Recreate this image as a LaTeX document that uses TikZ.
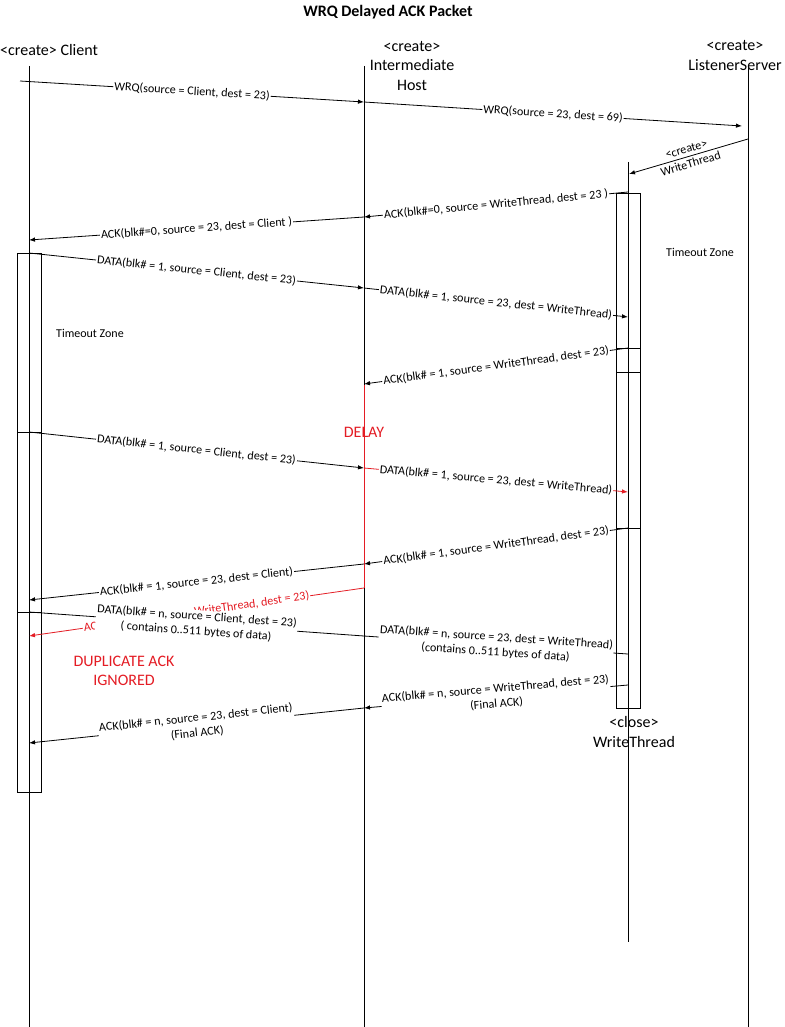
\documentclass[tikz,border=0pt]{standalone}
\usepackage{fontspec}
\setmainfont{Carlito}
\usetikzlibrary{arrows.meta}
\definecolor{dred}{RGB}{228,28,36}
\tikzset{
  head/.style={font=\fontsize{16}{19.5}\selectfont, align=center, inner sep=0pt},
  titlestyle/.style={font=\bfseries\fontsize{16}{18}\selectfont, inner sep=0pt},
  life/.style={line width=0.9pt},
  actbox/.style={line width=0.9pt},
  msg/.style={line width=0.8pt, -{Latex[length=6pt,width=4.5pt]}},
  plainmsg/.style={line width=0.8pt},
  lbl/.style={font=\fontsize{12.1}{15}\selectfont, fill=white, inner sep=1pt, sloped, align=center},
  note/.style={font=\fontsize{12}{14}\selectfont, inner sep=0pt},
  rednote/.style={font=\fontsize{16}{18.5}\selectfont, text=dred, align=center, inner sep=0pt}
}
\begin{document}
\begin{tikzpicture}[x=1pt,y=-1pt]
\useasboundingbox[fill=white] (0,0) rectangle (784,1027);

% title and headers
\node[titlestyle] (title) at (388,12) {WRQ Delayed ACK Packet};
\node[head, anchor=west] (hc) at (0,50) {<create> Client};
\node[head] (hi) at (412,66) {<create>\\Intermediate\\Host};
\node[head] (hl) at (735,55.5) {<create>\\ListenerServer};

% lifeline coordinates
\coordinate (cT) at (29,66);   \coordinate (cB) at (29,1027);
\coordinate (iT) at (364,66);  \coordinate (iB) at (364,1027);
\coordinate (iR1) at (364,385); \coordinate (iR2) at (364,588);
\coordinate (lT) at (748,65);  \coordinate (lB) at (748,1027);
\coordinate (wT) at (628,162); \coordinate (wB) at (628,942);

\draw[life] (cT) -- (cB);
\draw[life] (iT) -- (iB);
\draw[life] (lT) -- (lB);
\draw[life] (wT) -- (wB);
\draw[life, dred] (iR1) -- (iR2);

% activation boxes
\draw[actbox] (17,253) rectangle (41,792);
\draw[actbox] (17,432) -- (41,432);
\draw[actbox] (17,612) -- (41,612);
\draw[actbox] (616,193) rectangle (640,708);
\draw[actbox] (616,348) -- (640,348);
\draw[actbox] (616,372) -- (640,372);
\draw[actbox] (616,528) -- (640,528);

\node[head] (hw) at (634,732) {<close>\\WriteThread};

% notes
\node[note] (tz1) at (700,252) {Timeout Zone};
\node[note] (tz2) at (90,333) {Timeout Zone};
\node[rednote] (delay) at (364,432) {DELAY};
\node[rednote] (dup) at (124,671) {DUPLICATE ACK\\IGNORED};

% message end points
\coordinate (m1a) at (20,81);    \coordinate (m1b) at (364,102);
\coordinate (m2a) at (364,102);  \coordinate (m2b) at (742,126);
\coordinate (m3a) at (748,139);  \coordinate (m3b) at (629,174);
\coordinate (m4a) at (628,192);  \coordinate (m4b) at (364,217);
\coordinate (m5a) at (364,217);  \coordinate (m5b) at (29,240);
\coordinate (m6a) at (29,253);   \coordinate (m6b) at (364,288);
\coordinate (m7a) at (364,288);  \coordinate (m7b) at (628,317);
\coordinate (m8a) at (628,348);  \coordinate (m8b) at (364,384);
\coordinate (m9a) at (29,432);   \coordinate (m9b) at (364,468);
\coordinate (m10a) at (364,468); \coordinate (m10b) at (628,492);
\coordinate (m11a) at (628,528); \coordinate (m11b) at (364,564);
\coordinate (m12a) at (364,564); \coordinate (m12b) at (29,600);
\coordinate (m13a) at (364,588); \coordinate (m13b) at (29,636);
\coordinate (m14a) at (29,612);  \coordinate (m14b) at (364,636);
\coordinate (m15a) at (364,636); \coordinate (m15b) at (628,654);
\coordinate (m16a) at (628,685); \coordinate (m16b) at (364,708);
\coordinate (m17a) at (364,708); \coordinate (m17b) at (29,743);

% messages
\draw[msg] (m1a) -- node[lbl] (l1) {WRQ(source = Client, dest = 23)} (m1b);
\draw[msg] (m2a) -- node[lbl] (l2) {WRQ(source = 23, dest = 69)} (m2b);
\draw[msg] (m3a) -- node[lbl, fill=none] (l3) {<create>\\WriteThread} (m3b);
\draw[msg] (m4a) -- node[lbl] (l4) {ACK(blk\#=0, source = WriteThread, dest = 23 )} (m4b);
\draw[msg] (m5a) -- node[lbl] (l5) {ACK(blk\#=0, source = 23, dest = Client )} (m5b);
\draw[msg] (m6a) -- node[lbl] (l6) {DATA(blk\# = 1, source = Client, dest = 23)} (m6b);
\draw[msg] (m7a) -- node[lbl] (l7) {DATA(blk\# = 1, source = 23, dest = WriteThread)} (m7b);
\draw[msg] (m8a) -- node[lbl] (l8) {ACK(blk\# = 1, source = WriteThread, dest = 23)} (m8b);
\draw[msg] (m9a) -- node[lbl] (l9) {DATA(blk\# = 1, source = Client, dest = 23)} (m9b);
\draw[msg, dred] (m10a) -- node[lbl, text=black] (l10) {DATA(blk\# = 1, source = 23, dest = WriteThread)} (m10b);
\draw[msg] (m11a) -- node[lbl] (l11) {ACK(blk\# = 1, source = WriteThread, dest = 23)} (m11b);
\draw[msg] (m12a) -- node[lbl] (l12) {ACK(blk\# = 1, source = 23, dest = Client)} (m12b);
\draw[msg, dred] (m13a) -- node[lbl, text=dred] (l13) {ACK(blk\# = 1, source = WriteThread, dest = 23)} (m13b);
\draw[plainmsg] (m14a) -- node[lbl] (l14) {DATA(blk\# = n, source = Client, dest = 23)\\( contains 0..511 bytes of data)} (m14b);
\draw[plainmsg] (m15a) -- node[lbl] (l15) {DATA(blk\# = n, source = 23, dest = WriteThread)\\(contains 0..511 bytes of data)} (m15b);
\draw[msg] (m16a) -- node[lbl] (l16) {ACK(blk\# = n, source = WriteThread, dest = 23)\\(Final ACK)} (m16b);
\draw[msg] (m17a) -- node[lbl] (l17) {ACK(blk\# = n, source = 23, dest = Client)\\(Final ACK)} (m17b);
\end{tikzpicture}
\end{document}
